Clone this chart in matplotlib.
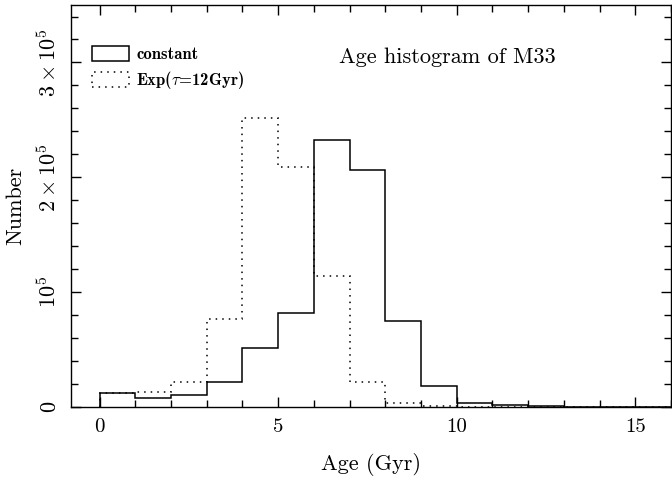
import numpy as np
import matplotlib
matplotlib.use("Agg")
import matplotlib.pyplot as plt
from matplotlib.patches import Patch
from matplotlib.ticker import MultipleLocator

# age bins (Gyr)
bin_edges = np.arange(0, 17, 1)
# constant star formation history
n_constant = [12000, 7600, 10200, 21500, 51300, 81700, 232400, 206700,
              75000, 18300, 3700, 1500, 600, 300, 200, 100]
# exponential, tau = 12 Gyr
n_exp = [12500, 12800, 21500, 76800, 251900, 209000, 114200, 21500,
         3700, 1000, 300, 100, 50, 20, 10, 5]

ytick_vals = [0, 1e5, 2e5, 3e5]
ytick_labels = [r"$0$", r"$10^5$", r"$2\times10^5$", r"$3\times10^5$"]
xtick_vals = [0, 5, 10, 15]

plt.rcParams["font.family"] = ["cmr10", "DejaVu Serif"]
plt.rcParams["mathtext.fontset"] = "cm"
plt.rcParams["axes.unicode_minus"] = False

fig = plt.figure(figsize=(6.72, 4.83), dpi=100)
ax = fig.add_axes([0.1057, 0.157, 0.8928, 0.8326])

ax.stairs(n_constant, bin_edges, baseline=0, color="black", lw=1.1)
ax.stairs(n_exp, bin_edges, baseline=0, color="black", lw=1.1,
          linestyle=(0, (1, 3.3)))

ax.set_xlim(-0.8, 16)
ax.set_ylim(0, 3.5e5)

ax.set_xticks(xtick_vals)
ax.set_xticklabels([str(v) for v in xtick_vals], fontsize=15)
ax.xaxis.set_minor_locator(MultipleLocator(1))
ax.set_yticks(ytick_vals)
ax.set_yticklabels(ytick_labels, fontsize=16, rotation=90, va="center")
ax.yaxis.set_minor_locator(MultipleLocator(2e4))

ax.tick_params(which="both", direction="in", top=True, right=True, width=1)
ax.tick_params(which="major", length=7.5, pad=8)
ax.tick_params(which="minor", length=5)
for s in ax.spines.values():
    s.set_linewidth(1.0)

ax.set_xlabel("Age (Gyr)", fontsize=16, labelpad=12)
ax.set_ylabel("Number", fontsize=16, labelpad=8)

ax.text(0.627, 0.871, "Age histogram of M33", transform=ax.transAxes,
        ha="center", va="center", fontsize=16)

handles = [Patch(facecolor="none", edgecolor="black", lw=1.1),
           Patch(facecolor="none", edgecolor="black", lw=1.1,
                 linestyle=(0, (1, 3.3)))]
leg = ax.legend(handles, ["constant", r"Exp($\tau$=12Gyr)"], loc="upper left",
                bbox_to_anchor=(0.035, 0.898), frameon=False, borderpad=0,
                borderaxespad=0, handlelength=2.2, handleheight=1.0,
                handletextpad=0.45, labelspacing=0.42,
                prop={"family": ["cmb10", "DejaVu Serif"], "size": 12})

fig.savefig("out.png", dpi=100)
